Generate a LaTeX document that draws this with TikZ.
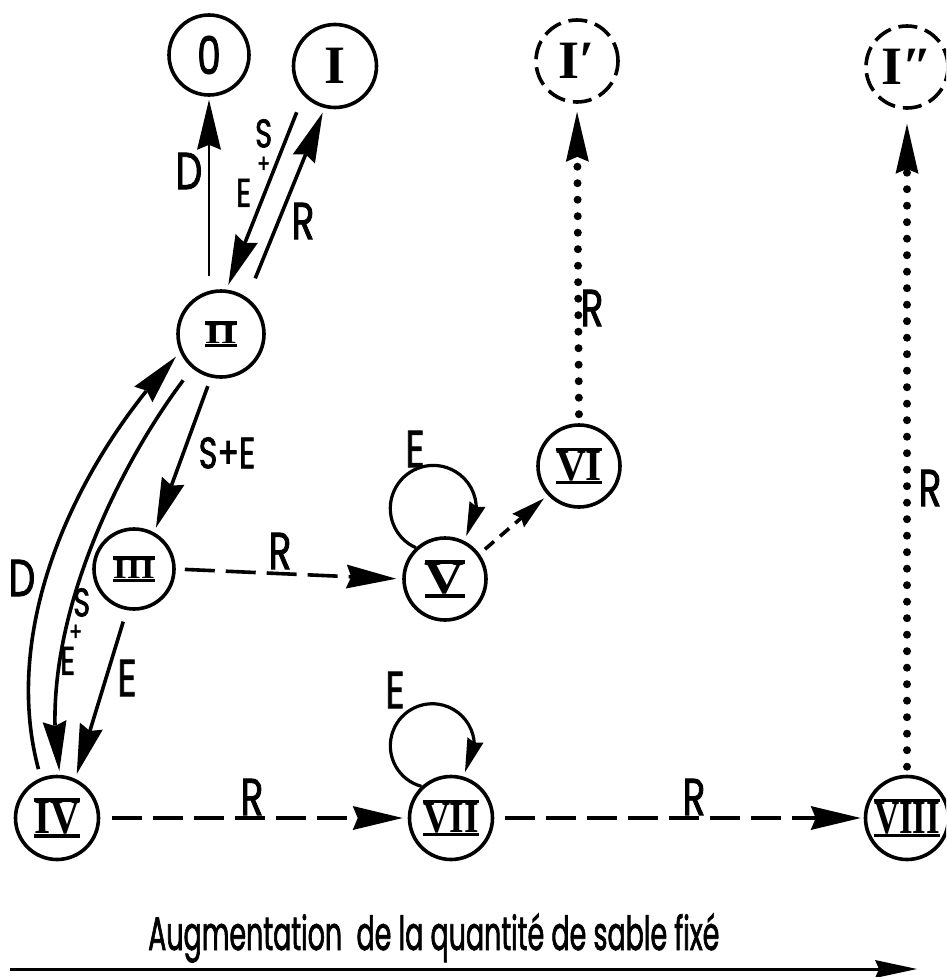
\documentclass[tikz,border=0pt]{standalone}
\usepackage{fontspec}
\usepackage{graphicx}
\usetikzlibrary{arrows.meta,bending}
\newfontfamily\lettering[FakeStretch=0.72,FakeBold=1.6]{Poppins}
\newfontfamily\numfont{Liberation Serif}
% Roman numeral with a bar above and below, scaled to width #2 and height #3
\newcommand\barnum[3]{\vbox{\hrule height 3.2pt\hbox{\resizebox{#2pt}{#3pt}{\numfont\bfseries #1}}\hrule height 3.2pt}}
% "S + E" written as a slanted stack; #1, #2 = indents of S and +, #3, #4 = gaps
\newcommand\sestack[4]{\vbox{\offinterlineskip
  \hbox{\kern#1pt S}\kern#3pt
  \hbox{\kern#2pt{\fontsize{26}{26}\selectfont +}}\kern#4pt
  \hbox{E}}}
\begin{document}
\begin{tikzpicture}[x=1pt,y=-1pt,
  stnode/.style={circle, draw, line width=3.6pt, minimum size=#1pt, inner sep=0pt},
  stnode/.default=83,
  ghost/.style={stnode=#1, dash pattern=on 19pt off 8pt},
  lbl/.style={font=\lettering\fontsize{52}{52}\selectfont, inner sep=0pt},
  small/.style={font=\lettering\fontsize{44}{44}\selectfont, inner sep=0pt},
  stack/.style={font=\lettering\fontsize{40}{40}\selectfont, inner sep=0pt, anchor=north west},
  arr/.style={line width=3.6pt, -{Stealth[length=50pt,width=24pt,inset=5pt,line width=0pt]}},
  dasharr/.style={arr, dash pattern=on 30pt off 11pt},
  smallarr/.style={line width=3.6pt, dash pattern=on 12pt off 8pt,
    -{Stealth[length=34pt,width=18pt,inset=4pt,line width=0pt]}},
  dotarr/.style={line width=8pt, line cap=round, dash pattern=on 0pt off 16.5pt,
    -{Stealth[length=50pt,width=23pt,inset=5pt,line width=0pt]}},
  looparr/.style={line width=3.2pt, -{Stealth[length=34pt,width=17pt,inset=3pt,line width=0pt]}}
]
\fill[white] (0,0) rectangle (946,977);
\useasboundingbox (0,0) rectangle (946,977);
\clip (0,0) rectangle (946,977);

% states
\node[stnode=80] (n0) at (209,55) {\lettering\fontsize{52}{52}\selectfont 0};
\node[stnode] (nI) at (335,66) {\numfont\bfseries\fontsize{54}{54}\selectfont I};
\node[ghost=82] (nIp) at (577,61) {\numfont\bfseries\fontsize{54}{54}\selectfont I′};
\node[ghost=82] (nIpp) at (907,67) {\numfont\bfseries\fontsize{54}{54}\selectfont I″};
\node[stnode=86] (nII) at (221,334) {\barnum{II}{32}{19}};
\node[stnode=80] (nIII) at (134,569) {\barnum{III}{42}{19}};
\node[stnode] (nIV) at (57,818) {\barnum{IV}{46}{32}};
\node[stnode=82] (nV) at (445,579) {\barnum{V}{40}{30}};
\node[stnode=82] (nVI) at (579,466) {\barnum{VI}{46}{29}};
\node[stnode] (nVII) at (451,818) {\barnum{VII}{56}{29}};
\node[stnode] (nVIII) at (907,818) {\barnum{VIII}{66}{31}};

% transitions around II
\draw[arr, line width=2.4pt, shorten <=13pt, shorten >=3pt] (n0.south |- nII.north) -- (n0.south);
\draw[arr, shorten <=18pt, shorten >=5pt] (nI.223) -- (nII.83);
\draw[arr, shorten <=21pt, shorten >=5pt] (nII.54) -- (nI.256);
\draw[arr, shorten <=9pt, shorten >=5pt] (nII.257) -- (nIII.61);
\draw[arr, shorten <=12pt, shorten >=5pt] (nIII.260) -- (nIV.65);
\draw[arr, shorten <=9pt, shorten >=6pt] (nIV.112) .. controls (0,625) and (76,462) .. (nII.204);
\draw[arr, shorten <=15pt, shorten >=4pt] (nII.230) .. controls (112,475) and (34,640) .. (nIV.86);

% R transitions
\draw[dasharr, shorten <=9pt, shorten >=6pt] (nIII.east) -- (nV.west);
\draw[dasharr, shorten <=12pt, shorten >=5pt] (nIV.east) -- (nVII.west);
\draw[dasharr, shorten <=11pt, shorten >=3pt] (nVII.east) -- (nVIII.west);
\draw[smallarr, shorten <=7pt, shorten >=5pt] (nV.36) -- (nVI.223);
\draw[dotarr, shorten <=9pt, shorten >=8pt] (nVI.north) -- (nIp.south);
\draw[dotarr, shorten <=8pt, shorten >=14pt] (nVIII.north) -- (nIpp.south);

% E loops
\draw[looparr] (nV.133) arc[start angle=114, end angle=400, radius=43];
\draw[looparr] (nVII.133) arc[start angle=105, end angle=399, radius=42];

% labels
\node[lbl] (lD1) at (189,171) {D};
\node[stack] (lSE1) at (236,119) {\sestack{19}{21}{9}{6}};
\node[lbl] (lR1) at (303,221) {R};
\node[small] (lSE) at (227,453) {S+E};
\node[lbl] (lD2) at (22,578) {D};
\node[stack] (lSE2) at (60,588) {\sestack{13}{9}{8}{6}};
\node[lbl] (lE3) at (127,678) {E};
\node[lbl] (lR2) at (280,551) {R};
\node[lbl] (lEV) at (415,449) {E};
\node[lbl] (lR3) at (592,308) {R};
\node[lbl] (lR4) at (252,797) {R};
\node[lbl] (lEVII) at (395,690) {E};
\node[lbl] (lR5) at (694,797) {R};
\node[lbl] (lR6) at (930,488) {R};

% axis
\node[anchor=base west, inner sep=0pt] (caption) at (148,950)
  {\scalebox{0.795}[1]{\lettering\fontsize{47}{47}\selectfont Augmentation\ \ de la quantité de sable fixé}};
\coordinate (axisL) at (10,969);
\coordinate (axisR) at (917,969);
\draw[line width=3pt, -{Stealth[length=42pt,width=18pt,inset=4pt,line width=0pt]}] (axisL) -- (axisR);
\end{tikzpicture}
\end{document}
